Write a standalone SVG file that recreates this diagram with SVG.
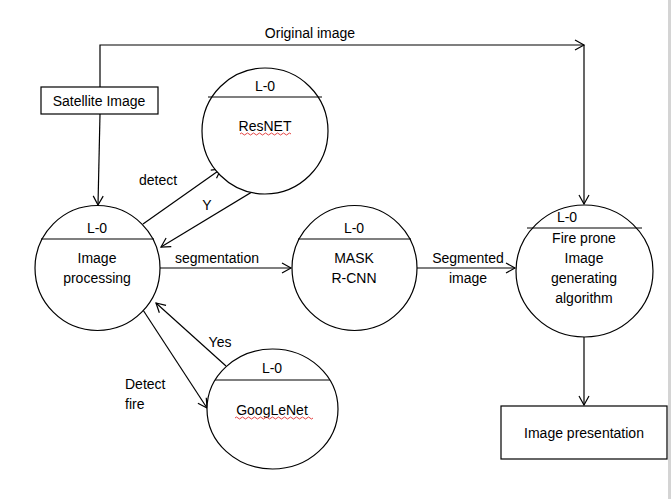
<svg xmlns="http://www.w3.org/2000/svg" width="671" height="499" viewBox="0 0 671 499">
<style>
.s{fill:none;stroke:#000;stroke-width:1.2}
.n{fill:#fff;stroke:#000;stroke-width:1.2}
.t{font-family:"Liberation Sans",Arial,sans-serif;font-size:14px;fill:#000;text-anchor:middle}
.l{text-anchor:start}
.sq{fill:none;stroke:#e03030;stroke-width:0.9}
</style>
<defs>
<marker id="a" markerWidth="12" markerHeight="12" refX="10" refY="6" orient="auto" markerUnits="userSpaceOnUse">
<path d="M1,1 L10,6 L1,11" fill="none" stroke="#000" stroke-width="1.2"/>
</marker>
</defs>
<rect x="0" y="0" width="671" height="499" fill="#fff"/>
<rect x="668" y="0" width="3" height="499" fill="#d4d4d4"/>
<g id="connectors">
<polyline class="s" points="100,88 100,45 584,45" marker-end="url(#a)"/>
<line class="s" x1="584" y1="45" x2="584" y2="204" marker-end="url(#a)"/>
<line class="s" x1="100" y1="114" x2="98" y2="205" marker-end="url(#a)"/>
<line class="s" x1="143" y1="224" x2="221" y2="169" marker-end="url(#a)"/>
<line class="s" x1="260" y1="187" x2="161" y2="247" marker-end="url(#a)"/>
<line class="s" x1="160" y1="268" x2="291" y2="268" marker-end="url(#a)"/>
<line class="s" x1="417" y1="268" x2="515" y2="268" marker-end="url(#a)"/>
<line class="s" x1="226" y1="366" x2="156" y2="303" marker-end="url(#a)"/>
<line class="s" x1="143" y1="310" x2="207" y2="408" marker-end="url(#a)"/>
<line class="s" x1="584" y1="337" x2="584" y2="405" marker-end="url(#a)"/>
<text class="t" x="310" y="38">Original image</text>
<text class="t" x="158" y="185">detect</text>
<text class="t" x="207" y="210">Y</text>
<text class="t" x="217" y="263">segmentation</text>
<text class="t" x="468" y="263">Segmented</text>
<text class="t" x="468" y="283">image</text>
<text class="t" x="220" y="347">Yes</text>
<text class="t l" x="125" y="389">Detect</text>
<text class="t l" x="125" y="409">fire</text>
</g>
<g id="satellite">
<rect class="n" x="41" y="87" width="117" height="27"/>
<text class="t" x="99" y="106">Satellite Image</text>
</g>
<g id="resnet">
<circle class="n" cx="265" cy="131" r="63"/>
<line class="s" x1="208" y1="97" x2="322" y2="97"/>
<text class="t" x="265" y="91">L-0</text>
<text class="t" x="265" y="131">ResNET</text>
<path class="sq" d="M240,134 q1.5,-2 3,0 t3,0 t3,0 t3,0 t3,0 t3,0 t3,0 t3,0 t3,0 t3,0 t3,0 t3,0 t3,0 t3,0 t3,0 t3,0 t3,0"/>
</g>
<g id="imageprocessing">
<circle class="n" cx="97.5" cy="268" r="62.5"/>
<line class="s" x1="41" y1="239" x2="154" y2="239"/>
<text class="t" x="97" y="233">L-0</text>
<text class="t" x="97" y="263">Image</text>
<text class="t" x="97" y="283">processing</text>
</g>
<g id="maskrcnn">
<circle class="n" cx="354.5" cy="268" r="62.5"/>
<line class="s" x1="298" y1="239" x2="411" y2="239"/>
<text class="t" x="354" y="233">L-0</text>
<text class="t" x="354" y="263">MASK</text>
<text class="t" x="354" y="283">R-CNN</text>
</g>
<g id="fireprone">
<ellipse class="n" cx="584.5" cy="271" rx="68.5" ry="66"/>
<line class="s" x1="527" y1="228" x2="642" y2="228"/>
<text class="t" x="567" y="222">L-0</text>
<text class="t" x="584" y="243">Fire prone</text>
<text class="t" x="584" y="263">Image</text>
<text class="t" x="584" y="283">generating</text>
<text class="t" x="584" y="303">algorithm</text>
</g>
<g id="googlenet">
<ellipse class="n" cx="272.5" cy="409" rx="65.5" ry="60"/>
<line class="s" x1="215" y1="380" x2="330" y2="380"/>
<text class="t" x="272" y="373">L-0</text>
<text class="t" x="272" y="415">GoogLeNet</text>
<path class="sq" d="M235,418 q1.5,-2 3,0 t3,0 t3,0 t3,0 t3,0 t3,0 t3,0 t3,0 t3,0 t3,0 t3,0 t3,0 t3,0 t3,0 t3,0 t3,0 t3,0 t3,0 t3,0 t3,0 t3,0 t3,0 t3,0 t3,0 t3,0 t3,0"/>
</g>
<g id="presentation">
<rect class="n" x="501" y="406" width="166" height="53"/>
<text class="t" x="584" y="438">Image presentation</text>
</g>
</svg>
